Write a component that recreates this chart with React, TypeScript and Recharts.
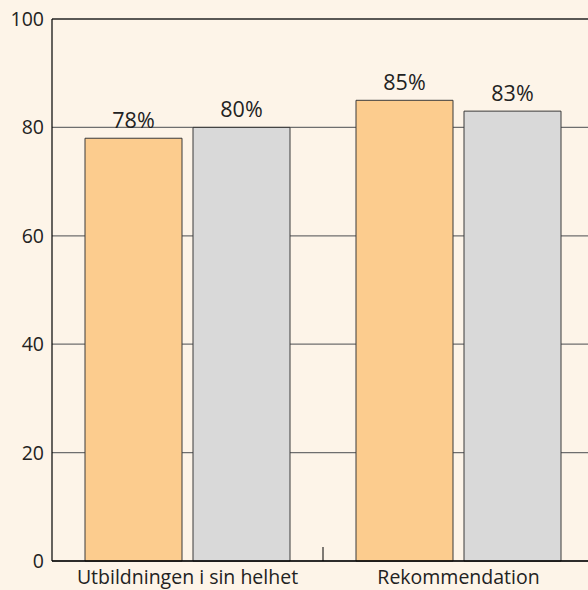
import React from "react"
import {
  BarChart,
  Bar,
  XAxis,
  YAxis,
  CartesianGrid,
  ReferenceLine,
  LabelList,
} from "recharts"

const categories = ["Utbildningen i sin helhet", "Rekommendation"]
const seriesA = [78, 85]
const seriesB = [80, 83]
const yTicks = [0, 20, 40, 60, 80, 100]

const data = categories.map((name, i) => ({
  name,
  a: seriesA[i],
  b: seriesB[i],
}))

const FONT = "'Open Sans', 'Noto Sans', sans-serif"
const FS = 19.5
const LABEL_FS = 21.5

function XTick(props: any) {
  const { x, y, payload, index } = props
  return (
    <g>
      {index === 0 && (
        <line
          x1={x + payload.offset}
          x2={x + payload.offset}
          y1={y}
          y2={y - 14}
          stroke="#000"
        />
      )}
      <text
        x={x}
        y={y + 23}
        textAnchor="middle"
        fontSize={FS}
        fontFamily={FONT}
        fill="#222"
      >
        {payload.value}
      </text>
    </g>
  )
}

export default function App() {
  return (
    <div
      style={{
        position: "absolute",
        left: 0,
        top: 0,
        width: 588,
        height: 590,
        overflow: "hidden",
        background: "#fdf4e8",
      }}
    >
      <BarChart
        width={600}
        height={590}
        data={data}
        margin={{ top: 19, right: 6, left: 0, bottom: 0 }}
        barSize={97}
        barGap={11}
      >
        <CartesianGrid horizontal vertical={false} stroke="#6e6e6e" strokeWidth={1.2} />
        <ReferenceLine y={100} stroke="#000" strokeWidth={1.2} />
        <XAxis
          dataKey="name"
          height={29}
          axisLine={{ stroke: "#000", strokeWidth: 1.5 }}
          tickLine={false}
          tickSize={0}
          tickMargin={0}
          tick={<XTick />}
          interval={0}
        />
        <YAxis
          width={52}
          domain={[0, 100]}
          ticks={yTicks}
          axisLine={{ stroke: "#000", strokeWidth: 1.2 }}
          tickLine={false}
          tick={{ fontSize: FS, fontFamily: FONT, fill: "#222" }}
        />
        <Bar
          dataKey="a"
          fill="#fccc8e"
          stroke="#3a3a3a"
          strokeWidth={1}
          isAnimationActive={false}
        >
          <LabelList
            dataKey="a"
            position="top"
            offset={10}
            formatter={(v: any) => `${v}%`}
            fontSize={LABEL_FS}
            fontFamily={FONT}
            fill="#222"
          />
        </Bar>
        <Bar
          dataKey="b"
          fill="#d9d9d9"
          stroke="#3a3a3a"
          strokeWidth={1}
          isAnimationActive={false}
        >
          <LabelList
            dataKey="b"
            position="top"
            offset={10}
            formatter={(v: any) => `${v}%`}
            fontSize={LABEL_FS}
            fontFamily={FONT}
            fill="#222"
          />
        </Bar>
      </BarChart>
    </div>
  )
}
